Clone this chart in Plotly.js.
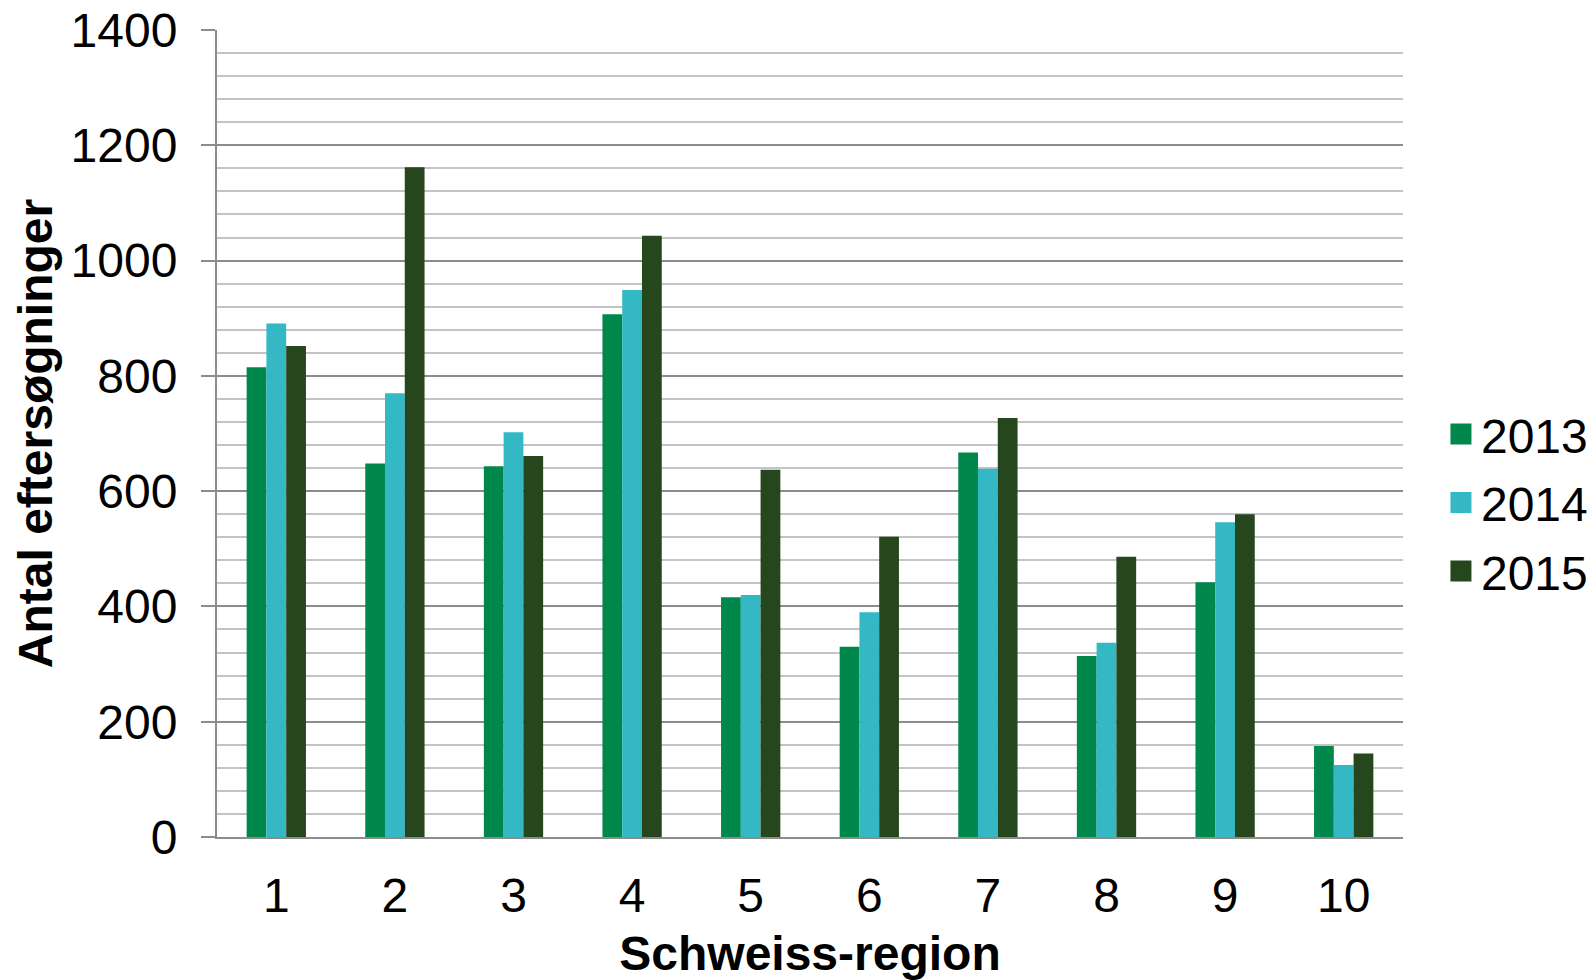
<!DOCTYPE html>
<html>
<head>
<meta charset="utf-8">
<script src="https://cdn.plot.ly/plotly-3.0.1.min.js"></script>
<style>html,body{margin:0;padding:0;background:#fff;}#chart{width:1596px;height:980px;}</style>
</head>
<body>
<div id="chart"></div>
<script>
const regions = ['1','2','3','4','5','6','7','8','9','10'];
const years = ['2013','2014','2015'];
const values2013 = [815, 648, 643, 907, 416, 330, 667, 314, 442, 158];
const values2014 = [891, 770, 702, 949, 420, 390, 639, 337, 546, 125];
const values2015 = [852, 1162, 661, 1043, 637, 521, 727, 486, 560, 145];
const seriesValues = [values2013, values2014, values2015];
const colors = ['#00874b', '#33b8c4', '#26461e'];
const yTitle = 'Antal eftersøgninger';
const xTitle = 'Schweiss-region';

const FONT = 'Liberation Sans, Arial, sans-serif';

const traces = [];
years.forEach((yr, i) => {
  traces.push({
    type: 'bar', name: yr, x: regions, y: seriesValues[i],
    marker: {color: colors[i], line: {width: 0}},
    showlegend: false, legendgroup: yr, hoverinfo: 'x+y+name'
  });
});
years.forEach((yr, i) => {
  traces.push({
    type: 'scatter', mode: 'markers', name: yr, x: [null], y: [null],
    marker: {symbol: 'square', size: 16, color: colors[i], line: {color: colors[i], width: 5}},
    showlegend: true, legendgroup: yr, hoverinfo: 'skip'
  });
});

const layout = {
  width: 1596, height: 980,
  margin: {l: 217, r: 193, t: 30, b: 143, autoexpand: false},
  paper_bgcolor: '#ffffff', plot_bgcolor: '#ffffff',
  font: {family: FONT, size: 48, color: '#000000'},
  barmode: 'group', bargap: 0.5, bargroupgap: 0,
  showlegend: true,
  legend: {
    x: 1.032, xanchor: 'left', y: 0.414, yanchor: 'middle',
    font: {family: FONT, size: 48, color: '#000000'},
    traceorder: 'grouped', tracegroupgap: 3,
    bgcolor: 'rgba(0,0,0,0)', borderwidth: 0
  },
  xaxis: {
    type: 'category', categoryorder: 'array', categoryarray: regions,
    showline: true, linecolor: '#8c8c8c', linewidth: 2,
    ticks: '', showgrid: false, zeroline: false,
    tickfont: {family: FONT, size: 48, color: '#000000'},
    ticklabelstandoff: 15,
    title: {text: xTitle, font: {family: FONT, size: 48, color: '#000000', weight: 'bold'}, standoff: 26},
    automargin: false
  },
  yaxis: {
    range: [0, 1400], dtick: 200, tick0: 0,
    showline: true, linecolor: '#8c8c8c', linewidth: 2,
    ticks: 'outside', ticklen: 14, tickwidth: 2, tickcolor: '#8c8c8c',
    showgrid: true, gridcolor: '#8c8c8c', gridwidth: 2,
    minor: {dtick: 40, showgrid: true, gridcolor: '#c4c4c4', gridwidth: 2, ticks: ''},
    zeroline: false,
    tickfont: {family: FONT, size: 48, color: '#000000'},
    ticklabelstandoff: 14,
    title: {text: yTitle, font: {family: FONT, size: 48, color: '#000000', weight: 'bold'}, standoff: 3},
    automargin: false
  }
};

Plotly.newPlot('chart', traces, layout, {displayModeBar: false, staticPlot: true});
</script>
</body>
</html>
